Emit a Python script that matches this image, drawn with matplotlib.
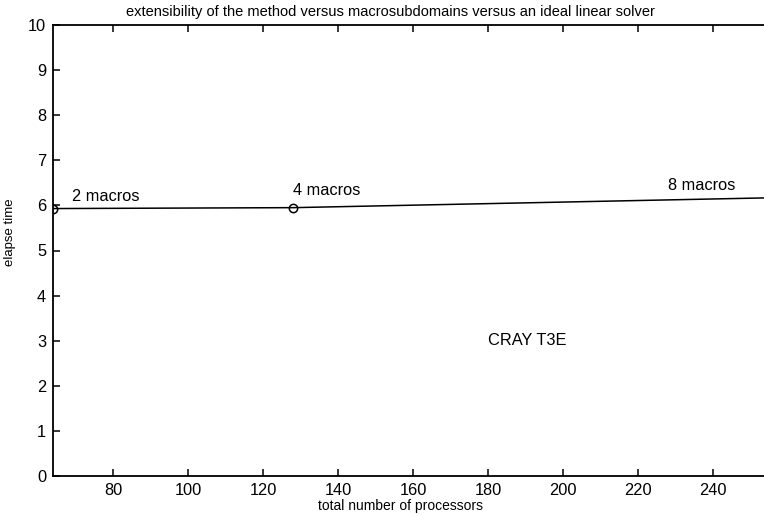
import matplotlib.pyplot as plt

# processors vs elapse time for 2, 4 and 8 macro subdomains
procs = [64, 128, 256]
elapse = [5.93, 5.95, 6.17]
labels = ['2 macros', '4 macros', '8 macros']
label_pos = [(69, 6.2), (128, 6.34), (228, 6.45)]

plt.rcParams['font.family'] = ['Liberation Sans', 'DejaVu Sans']

fig = plt.figure(figsize=(7.64, 5.16), dpi=100)
W, H = 764, 516
ax = fig.add_axes([53 / W, 40 / H, 720 / W, 451 / H])

ax.plot(procs, elapse, color='black', linewidth=1.1)
ax.plot(procs[:2], elapse[:2], 'o', mfc='none', mec='black', ms=6, mew=1.1)

for txt, (x, y) in zip(labels, label_pos):
    ax.text(x, y, txt, fontsize=11.8, va='center', ha='left')
ax.text(180, 3.0, 'CRAY T3E', fontsize=11.8, va='center', ha='left')

ax.set_xlim(64, 256)
ax.set_ylim(0, 10)
ax.set_xticks(range(80, 241, 20))
ax.set_yticks(range(0, 11))
ax.tick_params(direction='in', top=True, right=True, labelsize=11.8, length=5, width=1.1, pad=5)
for s in ax.spines.values():
    s.set_linewidth(1.3)

fig.text(390 / W, 1 - 12 / H, 'extensibility of the method versus macrosubdomains versus an ideal linear solver',
         ha='center', va='center', fontsize=10.5)
fig.text(400 / W, 1 - 506 / H, 'total number of processors', ha='center', va='center', fontsize=10)
fig.text(10 / W, 1 - 232 / H, 'elapse time', ha='center', va='center', rotation=90, fontsize=9.5)

fig.savefig('out.png', dpi=100)
